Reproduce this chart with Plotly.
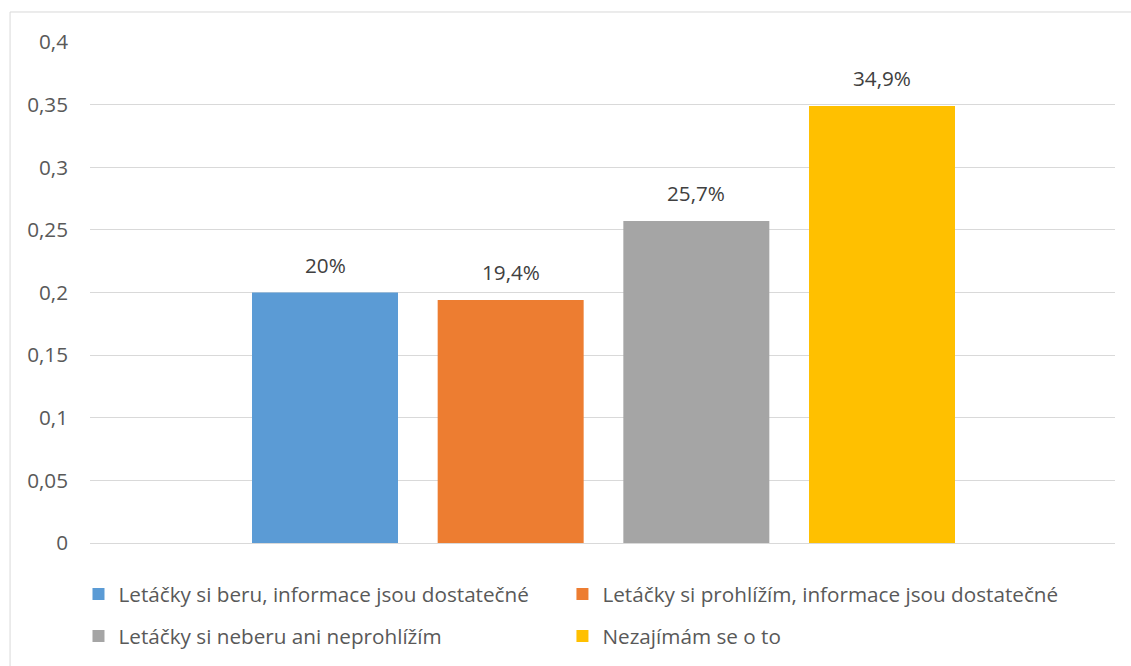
import plotly.graph_objects as go

series = [
    "Letáčky si beru, informace jsou dostatečné",
    "Letáčky si prohlížím, informace jsou dostatečné",
    "Letáčky si neberu ani neprohlížím",
    "Nezajímám se o to",
]
values = [0.200, 0.194, 0.257, 0.349]
labels = ["20%", "19,4%", "25,7%", "34,9%"]
colors = ["#5B9BD5", "#ED7D31", "#A5A5A5", "#FFC000"]
tick_vals = [0, 0.05, 0.1, 0.15, 0.2, 0.25, 0.3, 0.35, 0.4]
tick_text = ["0", "0,05", "0,1", "0,15", "0,2", "0,25", "0,3", "0,35", "0,4"]

FONT = "Open Sans"
FS = 20.7
TXT = "#595959"

fig = go.Figure()
legends = ["legend", "legend2", "legend3", "legend4"]
for name, v, lab, c, lg in zip(series, values, labels, colors, legends):
    fig.add_trace(go.Bar(x=[name], y=[v], name=name, marker_color=c,
                         marker_line_width=0, legend=lg, hoverinfo="skip"))
    fig.add_annotation(x=name, y=v, text=lab, showarrow=False, yanchor="bottom",
                       yshift=12, font=dict(family=FONT, size=FS, color="#404040"))

leg_common = dict(orientation="h", xref="container", yref="container",
                  xanchor="left", yanchor="middle",
                  font=dict(family=FONT, size=FS, color=TXT),
                  bgcolor="rgba(0,0,0,0)")
col_x = [0.0694, 0.4973]
row_y = [1 - 594 / 666, 1 - 636 / 666]

fig.update_layout(
    width=1131, height=666,
    margin=dict(l=90, r=16, t=42, b=123, autoexpand=False),
    plot_bgcolor="white", paper_bgcolor="white",
    barmode="overlay", bargap=0.2137,
    font=dict(family=FONT, size=FS, color=TXT),
    xaxis=dict(range=[-1.2657, 4.2549], showticklabels=False, showgrid=False,
               zeroline=False, showline=False, fixedrange=True),
    yaxis=dict(range=[0, 0.4], tickvals=tick_vals, ticktext=tick_text,
               showgrid=True, gridcolor="#D9D9D9", gridwidth=1,
               zeroline=True, zerolinecolor="#D9D9D9", zerolinewidth=1,
               showline=False, ticklabelstandoff=21,
               tickfont=dict(family=FONT, size=FS, color=TXT)),
    legend=dict(leg_common, x=col_x[0], y=row_y[0]),
    legend2=dict(leg_common, x=col_x[1], y=row_y[0]),
    legend3=dict(leg_common, x=col_x[0], y=row_y[1]),
    legend4=dict(leg_common, x=col_x[1], y=row_y[1]),
    showlegend=True,
)
fig.add_shape(type="rect", xref="paper", yref="paper", x0=-0.078, x1=1.2,
              y0=-0.5, y1=1.0599, line=dict(color="#D9D9D9", width=1),
              fillcolor="rgba(0,0,0,0)", layer="below")

fig.write_html("out.html")
